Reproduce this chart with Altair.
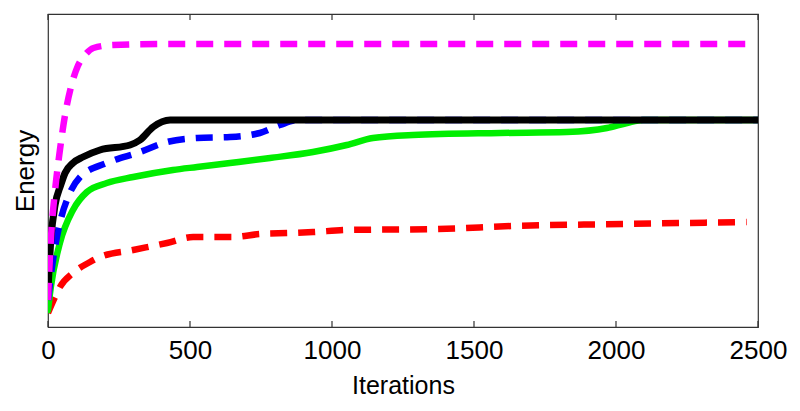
import altair as alt
import pandas as pd

# Iterations and energy values (arbitrary energy units)
magenta_x = [0, 10, 25, 42, 60, 80, 105, 130, 160, 229, 400, 1000, 2460]
magenta_y = [27, 87, 137, 177, 212, 239, 261, 272, 279, 282, 283, 283, 283]

black_x = [0, 10, 25, 45, 60, 88, 123, 183, 289, 324, 370, 430, 1000, 2500]
black_y = [37, 87, 122, 142, 154, 164, 170, 177, 182, 187, 200, 207, 207, 207]

blue_x = [0, 15, 42, 77, 113, 207, 324, 419, 525, 641, 746, 817, 880, 2500]
blue_y = [27, 62, 104, 134, 150, 164, 175, 185, 189, 190, 194, 202, 207, 207]

green_x = [0, 10, 42, 88, 137, 207, 300, 440, 525, 641, 782, 933, 1052, 1144,
           1285, 1592, 1827, 1968, 2039, 2095, 2500]
green_y = [17, 40, 84, 117, 135, 144, 150, 157, 160, 164, 169, 175, 182, 189,
           192, 194, 195, 199, 204, 207, 207]

red_x = [0, 20, 42, 88, 148, 183, 300, 419, 511, 651, 746, 852, 933, 1052,
         1370, 1637, 2025, 2460]
red_y = [14, 27, 40, 54, 65, 70, 77, 84, 90, 90, 93, 94, 95, 97,
         98, 101, 103, 105]

x_ticks = [0, 500, 1000, 1500, 2000, 2500]

xscale = alt.Scale(domain=[0, 2500], nice=False, zero=False)
yscale = alt.Scale(domain=[0, 313], nice=False, zero=False)


def line(xs, ys, color, dash=None, width=6.5):
    df = pd.DataFrame({"iter": xs, "energy": ys})
    kw = dict(color=color, strokeWidth=width, interpolate="monotone", clip=True)
    if dash:
        kw["strokeDash"] = dash
        kw["strokeCap"] = "butt"
    else:
        kw["strokeCap"] = "round"
        kw["strokeJoin"] = "round"
    return alt.Chart(df).mark_line(**kw).encode(
        x=alt.X("iter:Q", scale=xscale,
                axis=alt.Axis(values=x_ticks, title="Iterations", grid=False,
                              format="d",
                              tickSize=0, domain=False, labelPadding=10,
                              titlePadding=10, labelFontSize=26,
                              titleFontSize=25, labelColor="black",
                              titleColor="black", titleFontWeight="normal",
                              labelFont="Liberation Sans",
                              titleFont="Liberation Sans",
                              labelFlush=False)),
        y=alt.Y("energy:Q", scale=yscale,
                axis=alt.Axis(labels=False, ticks=False, grid=False,
                              domain=False, title="Energy", titlePadding=10,
                              titleFontSize=26, titleColor="black",
                              titleFontWeight="normal",
                              titleFont="Liberation Sans")),
    )


ticks_df = pd.DataFrame({"t": x_ticks})
tick_bottom = alt.Chart(ticks_df).mark_rule(color="#333", strokeWidth=1.2).encode(
    x=alt.X("t:Q", scale=xscale), y=alt.value(313), y2=alt.value(307))
tick_top = alt.Chart(ticks_df).mark_rule(color="#333", strokeWidth=1.2).encode(
    x=alt.X("t:Q", scale=xscale), y=alt.value(0), y2=alt.value(6))

chart = alt.layer(
    line(red_x, red_y, "#ff0000", dash=[17, 11]),
    line(green_x, green_y, "#00ee00"),
    line(blue_x, blue_y, "#0000ff", dash=[17, 11]),
    line(black_x, black_y, "#000000", width=7),
    line(magenta_x, magenta_y, "#ff00ff", dash=[17, 11]),
    tick_bottom,
    tick_top,
).properties(
    width=710,
    height=313,
    padding={"left": 40, "top": 6, "right": 34, "bottom": 76},
    autosize=alt.AutoSizeParams(type="none"),
).configure_view(stroke="#333", strokeWidth=1.2)

chart.save("out.html", embed_options={"renderer": "svg", "actions": False})
